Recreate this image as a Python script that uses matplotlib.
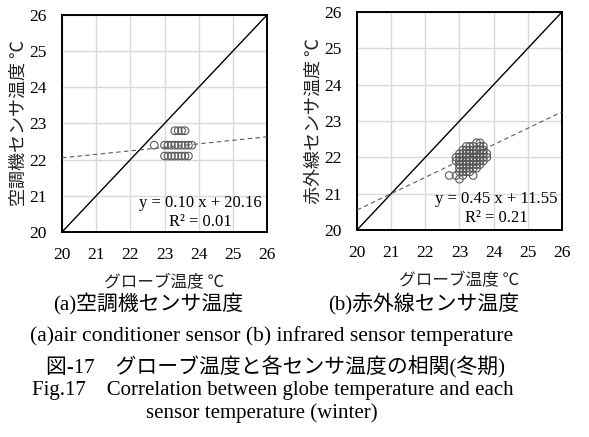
import matplotlib
matplotlib.use('Agg')
import matplotlib.pyplot as plt
import numpy as np

SERIF = ['Liberation Serif', 'Noto Sans CJK JP']
JP = ['Noto Sans CJK JP', 'Liberation Serif']
plt.rcParams['font.family'] = SERIF

GRAY = '#595959'
GRID = '#d9d9d9'

# ----- data -----
ticks = [20, 21, 22, 23, 24, 25, 26]

# (a) air conditioner sensor
ac_x = [23.3, 23.4, 23.5, 23.6,
        22.7, 23.0, 23.1, 23.2, 23.3, 23.4, 23.5, 23.6, 23.7, 23.8,
        23.0, 23.1, 23.2, 23.3, 23.4, 23.5, 23.6, 23.7]
ac_y = [22.8, 22.8, 22.8, 22.8,
        22.4, 22.4, 22.4, 22.4, 22.4, 22.4, 22.4, 22.4, 22.4, 22.4,
        22.1, 22.1, 22.1, 22.1, 22.1, 22.1, 22.1, 22.1]
ac_trend = (0.097, 20.11)   # drawn line
ac_text = 'y = 0.10 x + 20.16\nR² = 0.01'

# (b) infrared sensor
ir_x = [22.7,
        22.9, 22.9, 22.9,
        23.0, 23.0, 23.0, 23.0, 23.0, 23.0, 23.0,
        23.1, 23.1, 23.1, 23.1, 23.1, 23.1, 23.1, 23.1,
        23.2, 23.2, 23.2, 23.2, 23.2, 23.2, 23.2, 23.2,
        23.3, 23.3, 23.3, 23.3, 23.3, 23.3, 23.3, 23.3,
        23.4, 23.4, 23.4, 23.4, 23.4, 23.4, 23.4, 23.4,
        23.5, 23.5, 23.5, 23.5, 23.5, 23.5, 23.5,
        23.6, 23.6, 23.6, 23.6, 23.6, 23.6, 23.6,
        23.7, 23.7, 23.7, 23.7, 23.7,
        23.8, 23.8]
ir_y = [21.5,
        21.5, 21.9, 22.0,
        21.4, 21.6, 21.7, 21.8, 21.9, 22.0, 22.1,
        21.5, 21.6, 21.7, 21.8, 21.9, 22.0, 22.1, 22.2,
        21.6, 21.7, 21.8, 21.9, 22.0, 22.1, 22.2, 22.3,
        21.6, 21.7, 21.8, 21.9, 22.0, 22.1, 22.2, 22.3,
        21.5, 21.7, 21.8, 21.9, 22.0, 22.1, 22.2, 22.3,
        21.7, 21.8, 21.9, 22.0, 22.1, 22.2, 22.4,
        21.8, 21.9, 22.0, 22.1, 22.2, 22.3, 22.4,
        21.9, 22.0, 22.1, 22.2, 22.3,
        22.0, 22.1]
ir_trend = (0.45, 11.55)
ir_text = 'y = 0.45 x + 11.55\nR² = 0.21'

fig = plt.figure(figsize=(5.89, 4.37), dpi=100)
a = fig.add_axes([0.1053, 0.4691, 0.348, 0.4966])
b = fig.add_axes([0.6061, 0.4737, 0.348, 0.4989])


def panel(ax, xs, ys, trend, txt, ylabel, txt_xy):
    ax.set_xlim(20, 26)
    ax.set_ylim(20, 26)
    ax.set_xticks(ticks)
    ax.set_yticks(ticks)
    ax.grid(True, color=GRID, linewidth=1.0)
    ax.set_axisbelow(True)
    ax.tick_params(length=0, labelsize=12.5, pad=11)
    ax.tick_params(axis='y', pad=11)
    for s in ax.spines.values():
        s.set_linewidth(1.4)
        s.set_color('black')
    ax.plot([20, 26], [20, 26], color='black', linewidth=1.0, zorder=3)
    tx = np.array([20, 26])
    ax.plot(tx, trend[0] * tx + trend[1], color=GRAY, linewidth=0.8,
            dashes=(4, 3), zorder=3)
    ax.scatter(xs, ys, s=30, facecolors='none', edgecolors=GRAY,
               linewidths=0.8, zorder=4)
    ax.text(txt_xy[0], txt_xy[1], txt, ha='center', va='center',
            fontsize=12, linespacing=1.25, zorder=5)
    ax.set_xlabel('グローブ温度 ℃', family=JP, fontsize=12, color='#222222',
                  labelpad=8)
    ax.set_ylabel(ylabel, family=JP, fontsize=13, color='#222222', labelpad=1)


panel(a, ac_x, ac_y, ac_trend, ac_text, '空調機センサ温度 ℃', (24.04, 20.53))
panel(b, ir_x, ir_y, ir_trend, ir_text, '赤外線センサ温度 ℃', (24.08, 20.58))

# captions
fs = 15
fig.text(148 / 589, 1 - 304 / 437, '(a)空調機センサ温度', ha='center', va='center', fontsize=fs)
fig.text(424 / 589, 1 - 304 / 437, '(b)赤外線センサ温度', ha='center', va='center', fontsize=fs)
fig.text(272 / 589, 1 - 336 / 437, '(a)air conditioner sensor (b) infrared sensor temperature',
         ha='center', va='center', fontsize=15.5)
fig.text(276 / 589, 1 - 366 / 437, '図-17\u3000グローブ温度と各センサ温度の相関(冬期)',
         ha='center', va='center', fontsize=fs)
fig.text(273 / 589, 1 - 390 / 437, 'Fig.17\u3000Correlation between globe temperature and each',
         ha='center', va='center', fontsize=fs)
fig.text(262 / 589, 1 - 413 / 437, 'sensor temperature (winter)',
         ha='center', va='center', fontsize=fs)

fig.savefig('out.png', dpi=100)
